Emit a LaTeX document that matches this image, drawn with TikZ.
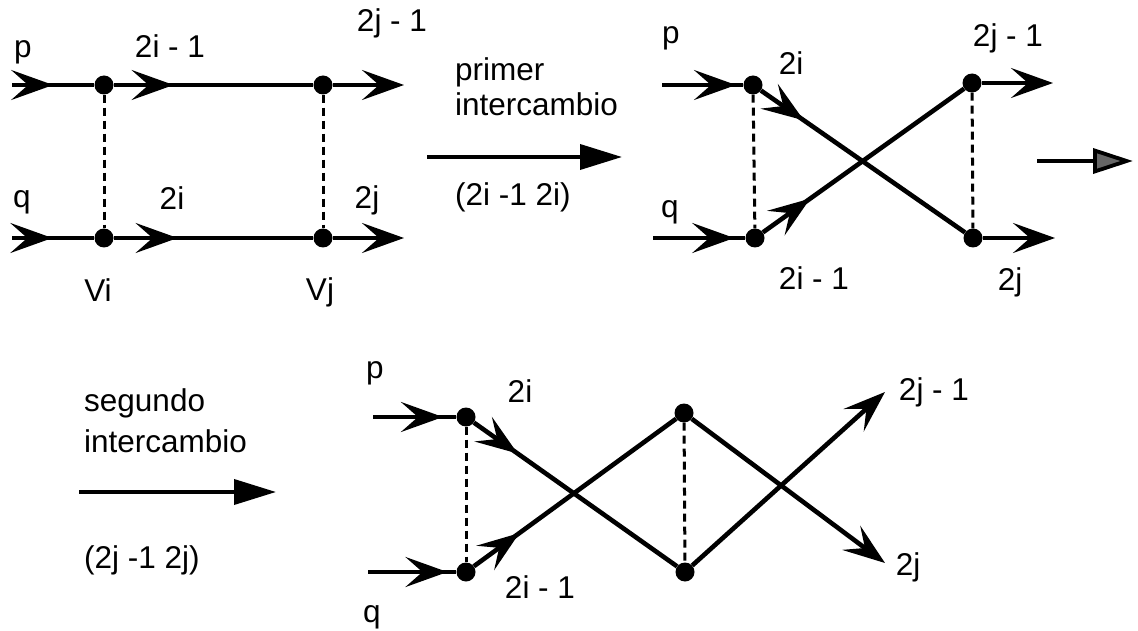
\documentclass[tikz,border=0pt]{standalone}
\usepackage{fontspec}
\setmainfont{Liberation Sans}
\usetikzlibrary{arrows.meta,decorations.markings}
\tikzset{
  dot/.style={circle,fill=black,inner sep=0pt,minimum size=19pt},
  lbl/.style={inner sep=0pt,font=\fontsize{31.5}{38}\selectfont},
  hline/.style={line width=3.8pt},
  dline/.style={line width=4.6pt},
  vlink/.style={line width=3pt,dash pattern=on 8pt off 5pt},
  midarr/.style={postaction={decorate},decoration={markings,mark=at position #1 with {\arrow{Stealth[length=42pt,width=30pt,inset=17pt]}}}},
  endarr/.style={-{Stealth[length=42pt,width=30pt,inset=17pt]}},
  bigarr/.style={line width=3.8pt,-{Triangle[length=42pt,width=25pt]}},
}
\begin{document}
\begin{tikzpicture}[x=1pt,y=-1pt]
\useasboundingbox (0,0) rectangle (1138,631);

% ---------- diagram 1 ----------
\node[dot] (A1) at (104,85) {};
\node[dot] (B1) at (323,85) {};
\node[dot] (C1) at (104,238) {};
\node[dot] (D1) at (323,238) {};
\coordinate (p1in) at (12,85);
\coordinate (p1out) at (404,85);
\coordinate (q1in) at (12,238);
\coordinate (q1out) at (404,238);
\draw[hline,midarr=0.5] (p1in) -- (A1);
\draw[hline,midarr=0.3] (A1) -- (B1);
\draw[hline,endarr] (B1) -- (p1out);
\draw[hline,midarr=0.49] (q1in) -- (C1);
\draw[hline,midarr=0.32] (C1) -- (D1);
\draw[hline,endarr] (D1) -- (q1out);
\draw[vlink] (A1) -- (C1);
\draw[vlink] (B1) -- (D1);
\node[lbl] (lp1) at (23,52) {p};
\node[lbl] (l1a) at (170,46) {2i - 1};
\node[lbl] (l1b) at (392,23) {2j - 1};
\node[lbl] (lq1) at (22,202) {q};
\node[lbl] (l1c) at (172,198) {2i};
\node[lbl] (l1d) at (367,200) {2j};
\node[lbl] (lvi) at (98,290) {Vi};
\node[lbl] (lvj) at (320,292) {Vj};

% ---------- first exchange arrow ----------
\coordinate (m1s) at (427,157);
\coordinate (m1e) at (622,157);
\draw[bigarr] (m1s) -- (m1e);
\node[lbl,anchor=west] (t1a) at (455,72) {primer};
\node[lbl,anchor=west] (t1b) at (455,104) {intercambio};
\node[lbl,anchor=west] (t1c) at (455,197) {(2i -1 2i)};

% ---------- diagram 2 ----------
\node[dot] (A2) at (753,85) {};
\node[dot] (B2) at (972,83) {};
\node[dot] (C2) at (755,238) {};
\node[dot] (D2) at (973,238) {};
\coordinate (p2in) at (662,85);
\coordinate (q2in) at (653,238);
\coordinate (p2out) at (1053,83);
\coordinate (q2out) at (1055,238);
\draw[hline,midarr=0.91] (p2in) -- (A2);
\draw[hline,midarr=0.88] (q2in) -- (C2);
\draw[dline,midarr=0.21] (A2) -- (D2);
\draw[dline,midarr=0.235] (C2) -- (B2);
\draw[hline,endarr] (B2) -- (p2out);
\draw[hline,endarr] (D2) -- (q2out);
\draw[vlink] (A2) -- (C2);
\draw[vlink] (B2) -- (D2);
\node[lbl] (lp2) at (671,38) {p};
\node[lbl] (l2a) at (791,63) {2i};
\node[lbl] (l2b) at (1008,38) {2j - 1};
\node[lbl] (lq2) at (670,212) {q};
\node[lbl] (l2c) at (814,278) {2i - 1};
\node[lbl] (l2d) at (1010,282) {2j};

% grey continuation arrow
\coordinate (g1) at (1037,161);
\coordinate (g2) at (1133,161);
\draw[line width=3.8pt,-{Triangle[length=40pt,width=25pt,fill=black!60]}] (g1) -- (g2);

% ---------- second exchange arrow ----------
\coordinate (m2s) at (79,492);
\coordinate (m2e) at (276,492);
\draw[bigarr] (m2s) -- (m2e);
\node[lbl,anchor=west] (t2a) at (84,403) {segundo};
\node[lbl,anchor=west] (t2b) at (84,441) {intercambio};
\node[lbl,anchor=west] (t2c) at (84,560) {(2j -1 2j)};

% ---------- diagram 3 ----------
\node[dot] (A3) at (466,417) {};
\node[dot] (B3) at (684,413) {};
\node[dot] (C3) at (466,572) {};
\node[dot] (D3) at (685,572) {};
\coordinate (p3in) at (373,417);
\coordinate (q3in) at (368,572);
\coordinate (p3out) at (885,392);
\coordinate (q3out) at (885,563);
\draw[hline,midarr=0.84] (p3in) -- (A3);
\draw[hline,midarr=0.9] (q3in) -- (C3);
\draw[dline,midarr=0.215] (A3) -- (D3);
\draw[dline,midarr=0.225] (C3) -- (B3);
\draw[dline,endarr] (D3) -- (p3out);
\draw[dline,endarr] (B3) -- (q3out);
\draw[vlink] (A3) -- (C3);
\draw[vlink] (B3) -- (D3);
\node[lbl] (lp3) at (375,373) {p};
\node[lbl] (l3a) at (520,391) {2i};
\node[lbl] (l3b) at (540,587) {2i - 1};
\node[lbl] (lq3) at (372,617) {q};
\node[lbl] (l3c) at (934,392) {2j - 1};
\node[lbl] (l3d) at (908,567) {2j};
\end{tikzpicture}
\end{document}
